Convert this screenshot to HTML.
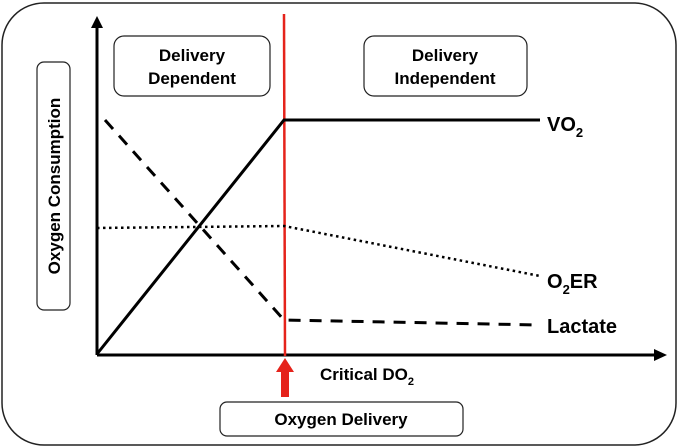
<!DOCTYPE html>
<html><head><meta charset="utf-8"><style>
html,body{margin:0;padding:0;background:#fff;}
svg{display:block;font-family:"Liberation Sans",Arial,sans-serif;font-weight:bold;}
</style></head><body>
<svg width="679" height="448" viewBox="0 0 679 448" xmlns="http://www.w3.org/2000/svg">
<rect x="2" y="3" width="674" height="442" rx="42" ry="42" fill="#fff" stroke="#222" stroke-width="1.5"/>
<!-- axes -->
<line x1="97" y1="355" x2="97" y2="26" stroke="#000" stroke-width="3"/>
<polygon points="97,16 91,28 103,28" fill="#000"/>
<line x1="97" y1="355" x2="655" y2="355" stroke="#000" stroke-width="3"/>
<polygon points="667,355 654,349 654,361" fill="#000"/>
<!-- red line -->
<line x1="284" y1="14" x2="285" y2="356" stroke="#e5231b" stroke-width="2.5"/>
<rect x="281" y="371" width="8" height="26" fill="#e5231b"/>
<polygon points="285,358 276,372 294,372" fill="#e5231b"/>
<!-- boxes -->
<rect x="114" y="36" width="156" height="60" rx="10" fill="#fff" stroke="#222" stroke-width="1.2"/>
<text x="192" y="61" font-size="17" text-anchor="middle">Delivery</text>
<text x="192" y="84" font-size="17" text-anchor="middle">Dependent</text>
<rect x="364" y="36" width="163" height="60" rx="10" fill="#fff" stroke="#222" stroke-width="1.2"/>
<text x="445" y="61" font-size="17" text-anchor="middle">Delivery</text>
<text x="445" y="84" font-size="17" text-anchor="middle">Independent</text>
<rect x="37" y="62" width="33" height="248" rx="7" fill="#fff" stroke="#222" stroke-width="1.2"/>
<text transform="translate(60,186) rotate(-90)" font-size="17" text-anchor="middle">Oxygen Consumption</text>
<rect x="220" y="402" width="243" height="34" rx="7" fill="#fff" stroke="#222" stroke-width="1.2"/>
<text x="341" y="425" font-size="17" text-anchor="middle">Oxygen Delivery</text>
<!-- curves -->
<polyline points="97,354 284,120 540,120" fill="none" stroke="#000" stroke-width="3"/>
<polyline points="105,120 284,320 540,325" fill="none" stroke="#000" stroke-width="3" stroke-dasharray="12,9"/>
<polyline points="97,228 284,226 540,276" fill="none" stroke="#000" stroke-width="2.5" stroke-dasharray="2.5,3.5"/>
<!-- labels -->
<text x="547" y="131" font-size="20">VO<tspan font-size="13" dy="6">2</tspan></text>
<text x="547" y="288" font-size="20">O<tspan font-size="13" dy="6">2</tspan><tspan dy="-6">ER</tspan></text>
<text x="547" y="333" font-size="20">Lactate</text>
<text x="320" y="380" font-size="17">Critical DO<tspan font-size="11" dy="5">2</tspan></text>
</svg>
</body></html>
